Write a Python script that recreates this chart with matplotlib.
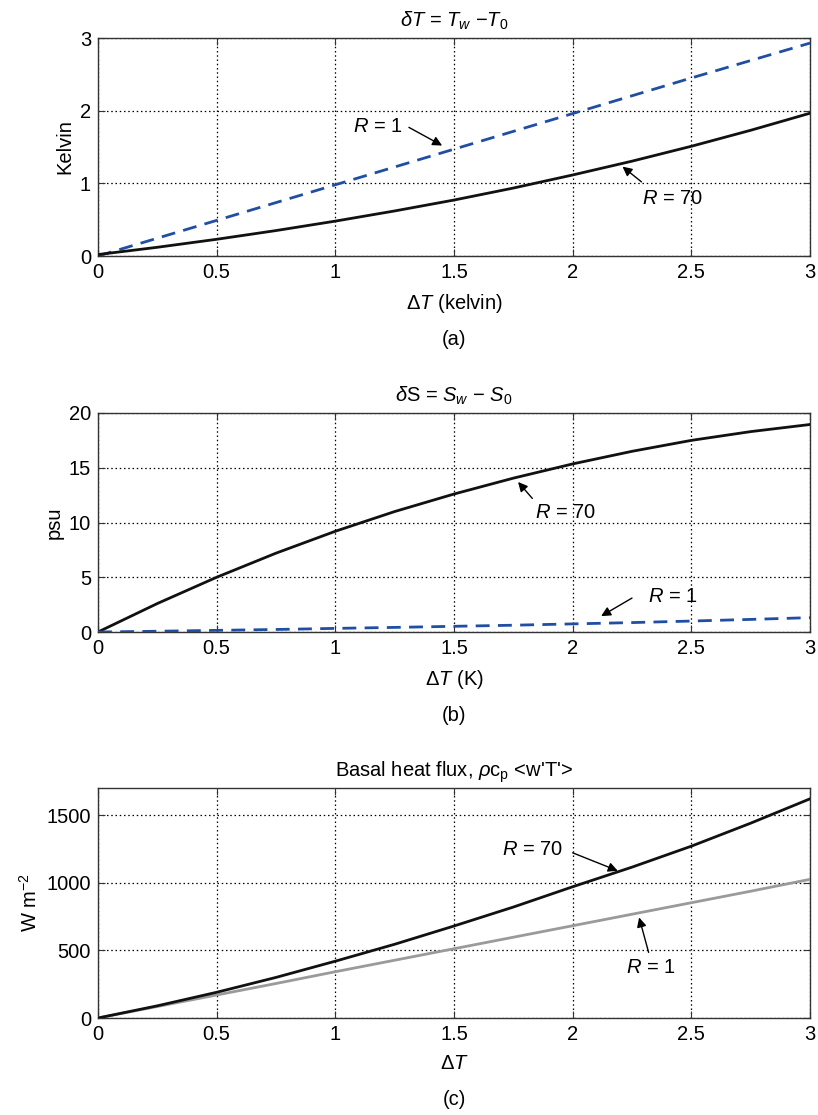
import matplotlib
matplotlib.use("Agg")
import matplotlib.pyplot as plt

plt.rcParams['font.family'] = ['Liberation Sans', 'DejaVu Sans']
plt.rcParams['mathtext.fontset'] = 'custom'
plt.rcParams['mathtext.rm'] = 'Liberation Sans'
plt.rcParams['mathtext.it'] = 'Liberation Sans:italic'
plt.rcParams['mathtext.sf'] = 'Liberation Sans'

# Temperature difference across the boundary layer (K)
dT = [0, 0.25, 0.5, 0.75, 1.0, 1.25, 1.5, 1.75, 2.0, 2.25, 2.5, 2.75, 3.0]

# (a) delta T = T_w - T_0
dtemp_r1 = [0, 0.245, 0.49, 0.735, 0.98, 1.225, 1.47, 1.715, 1.96, 2.205, 2.45, 2.69, 2.93]
dtemp_r70 = [0.02, 0.12, 0.23, 0.35, 0.48, 0.62, 0.77, 0.935, 1.115, 1.305, 1.51, 1.73, 1.965]

# (b) delta S = S_w - S_0
dsal_r70 = [0, 2.6, 5.0, 7.2, 9.2, 11.0, 12.6, 14.05, 15.35, 16.5, 17.5, 18.3, 18.95]
dsal_r1 = [0, 0.07, 0.15, 0.23, 0.33, 0.42, 0.52, 0.62, 0.74, 0.86, 1.0, 1.15, 1.31]

# (c) basal heat flux
flux_r70 = [0, 90, 190, 300, 420, 545, 680, 820, 970, 1115, 1270, 1440, 1620]
flux_r1 = [0, 85, 170, 255, 342, 427, 512, 597, 682, 767, 852, 937, 1025]

BLUE = '#1f4ea3'
GRAY = '#9a9a9a'
FS = 14.5

fig = plt.figure(figsize=(8.18, 11.15), dpi=100)

left, width = 98 / 818, 712 / 818
H = 1115
ax_a = fig.add_axes([left, 1 - 256 / H, width, 218 / H])
ax_b = fig.add_axes([left, 1 - 632 / H, width, 219 / H])
ax_c = fig.add_axes([left, 1 - 1018 / H, width, 230 / H])


def style(ax, ylim, yticks):
    ax.set_xlim(0, 3)
    ax.set_ylim(*ylim)
    ax.set_xticks([0, 0.5, 1, 1.5, 2, 2.5, 3])
    ax.set_xticklabels(['0', '0.5', '1', '1.5', '2', '2.5', '3'])
    ax.set_yticks(yticks)
    ax.grid(True, color='black', linestyle=(0, (1.2, 2.2)), linewidth=0.9)
    ax.tick_params(direction='in', top=True, right=True, length=5,
                   width=0.8, labelsize=FS, color='#333333', pad=5)
    for s in ax.spines.values():
        s.set_color('#333333')
        s.set_linewidth(1.0)


arrow = dict(arrowstyle='-|>', color='black', lw=1.0, mutation_scale=14,
             shrinkA=0, shrinkB=0)
DASH = (0, (5, 3))

# ---- (a)
style(ax_a, (0, 3), [0, 1, 2, 3])
ax_a.plot(dT, dtemp_r1, color=BLUE, lw=2.0, linestyle=DASH, zorder=3)
ax_a.plot(dT, dtemp_r70, color='#111111', lw=2.0, zorder=3)
ax_a.set_title(r'$\delta T$ = $T_w$ $-T_{\mathit{0}}$', fontsize=FS, pad=8)
ax_a.set_ylabel('Kelvin', fontsize=FS, labelpad=4)
ax_a.set_xlabel(r'$\Delta$$T$ (kelvin)', fontsize=FS, labelpad=7)
ax_a.annotate('', xy=(1.45, 1.52), xytext=(1.31, 1.77), arrowprops=arrow)
ax_a.text(1.18, 1.78, r'$R$ = 1', fontsize=FS, ha='center', va='center')
ax_a.annotate('', xy=(2.21, 1.23), xytext=(2.29, 1.02), arrowprops=arrow)
ax_a.text(2.42, 0.79, r'$R$ = 70', fontsize=FS, ha='center', va='center')
ax_a.annotate('(a)', xy=(0.5, 0), xycoords='axes fraction', xytext=(0, -60),
              textcoords='offset points', ha='center', va='center', fontsize=FS)

# ---- (b)
style(ax_b, (0, 20), [0, 5, 10, 15, 20])
ax_b.plot(dT, dsal_r70, color='#111111', lw=2.0, zorder=3)
ax_b.plot(dT, dsal_r1, color=BLUE, lw=2.0, linestyle=DASH, zorder=3)
ax_b.set_title(r'$\delta$S = $S_w$ $-$ $S_{\mathit{0}}$', fontsize=FS, pad=8)
ax_b.set_ylabel('psu', fontsize=FS, labelpad=4)
ax_b.set_xlabel(r'$\Delta$$T$ (K)', fontsize=FS, labelpad=7)
ax_b.annotate('', xy=(1.77, 13.7), xytext=(1.83, 12.2), arrowprops=arrow)
ax_b.text(1.97, 10.9, r'$R$ = 70', fontsize=FS, ha='center', va='center')
ax_b.annotate('', xy=(2.12, 1.45), xytext=(2.25, 3.1), arrowprops=arrow)
ax_b.text(2.42, 3.2, r'$R$ = 1', fontsize=FS, ha='center', va='center')
ax_b.annotate('(b)', xy=(0.5, 0), xycoords='axes fraction', xytext=(0, -60),
              textcoords='offset points', ha='center', va='center', fontsize=FS)

# ---- (c)
style(ax_c, (0, 1700), [0, 500, 1000, 1500])
ax_c.plot(dT, flux_r1, color=GRAY, lw=2.0, zorder=3)
ax_c.plot(dT, flux_r70, color='#111111', lw=2.0, zorder=3)
ax_c.set_title(r"Basal heat flux, $\rho$c$_\mathrm{p}$ <w'T'>", fontsize=FS, pad=8)
ax_c.set_ylabel(r'W m$^{-2}$', fontsize=FS, labelpad=4)
ax_c.set_xlabel(r'$\Delta$$T$', fontsize=FS, labelpad=7)
ax_c.annotate('', xy=(2.19, 1088), xytext=(2.0, 1221), arrowprops=arrow)
ax_c.text(1.83, 1243, r'$R$ = 70', fontsize=FS, ha='center', va='center')
ax_c.annotate('', xy=(2.28, 743), xytext=(2.32, 485), arrowprops=arrow)
ax_c.text(2.33, 375, r'$R$ = 1', fontsize=FS, ha='center', va='center')
ax_c.annotate('(c)', xy=(0.5, 0), xycoords='axes fraction', xytext=(0, -59),
              textcoords='offset points', ha='center', va='center', fontsize=FS)

fig.savefig('out.png', dpi=100)
